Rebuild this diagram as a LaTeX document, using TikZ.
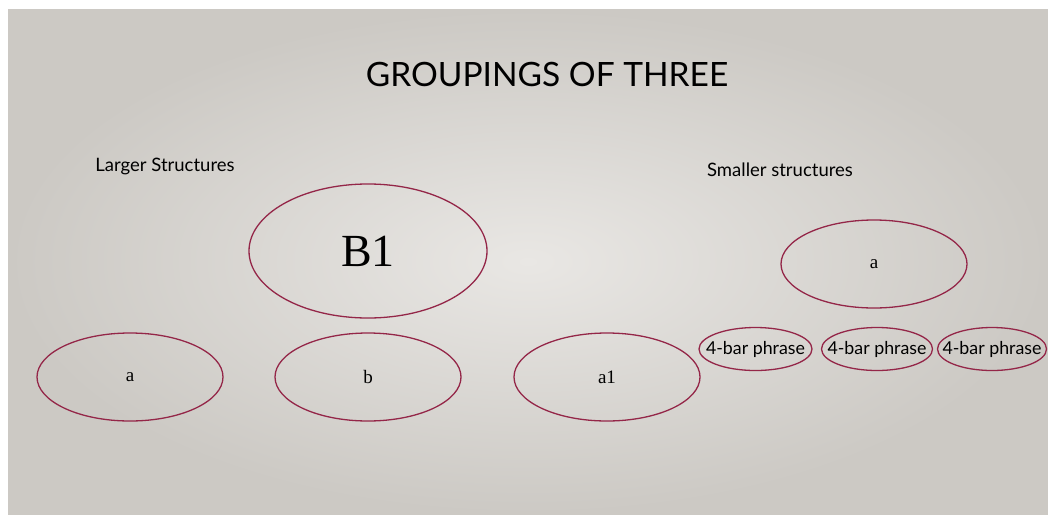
\documentclass[tikz,border=0pt]{standalone}
\usepackage{fontspec}
\usetikzlibrary{shapes.geometric}
\setmainfont{Liberation Serif}
\newfontfamily\gill{Lato}
\definecolor{ring}{RGB}{148,38,72}
\definecolor{bgout}{RGB}{204,201,196}
\definecolor{bgin}{RGB}{233,231,228}
\begin{document}
\begin{tikzpicture}[x=1pt,y=-1pt,
  ov/.style={draw=ring,line width=1.3pt,ellipse,inner sep=0pt},
  big/.style={ov,minimum width=238pt,minimum height=134pt},
  mid/.style={ov,minimum width=186pt,minimum height=88pt},
  ring/.style={draw=ring,line width=1.3pt},
  serif/.style={font=\fontsize{19}{21}\selectfont},
  sans/.style={font=\gill\fontsize{18.5}{20}\selectfont},
  phrase/.style={font=\gill\fontsize{17.8}{20}\selectfont,inner sep=0pt}]
\useasboundingbox (0,0) rectangle (1048,514);
\fill[white] (0,0) rectangle (1048,514);
\shade[inner color=bgin,outer color=bgout] (8,9) rectangle (1048,514);
\node[font=\gill\fontsize{33.5}{36}\selectfont] (title) at (547,75) {GROUPINGS OF THREE};
\node[sans] (larger) at (165,166) {Larger Structures};
\node[sans] (smaller) at (780,170) {Smaller structures};
\node[big,font=\fontsize{46}{48}\selectfont] (B1) at (368,251) {B1};
\node[mid,serif] (a) at (130,377) {a};
\node[mid,serif] (b) at (368,377) {b};
\node[mid,serif] (a1) at (607,377) {a1};
\node[mid,serif] (ar) at (874,264) {a};
\node[phrase] (p1) at (755.5,349) {4-bar phrase};
\node[phrase] (p2) at (877,349) {4-bar phrase};
\node[phrase] (p3) at (992,349) {4-bar phrase};
\draw[ring] (p1.center) ellipse (56.5 and 21.5);
\draw[ring] (p2.center) ellipse (55.5 and 21.5);
\draw[ring] (p3.center) ellipse (54.5 and 21.5);
\end{tikzpicture}
\end{document}
